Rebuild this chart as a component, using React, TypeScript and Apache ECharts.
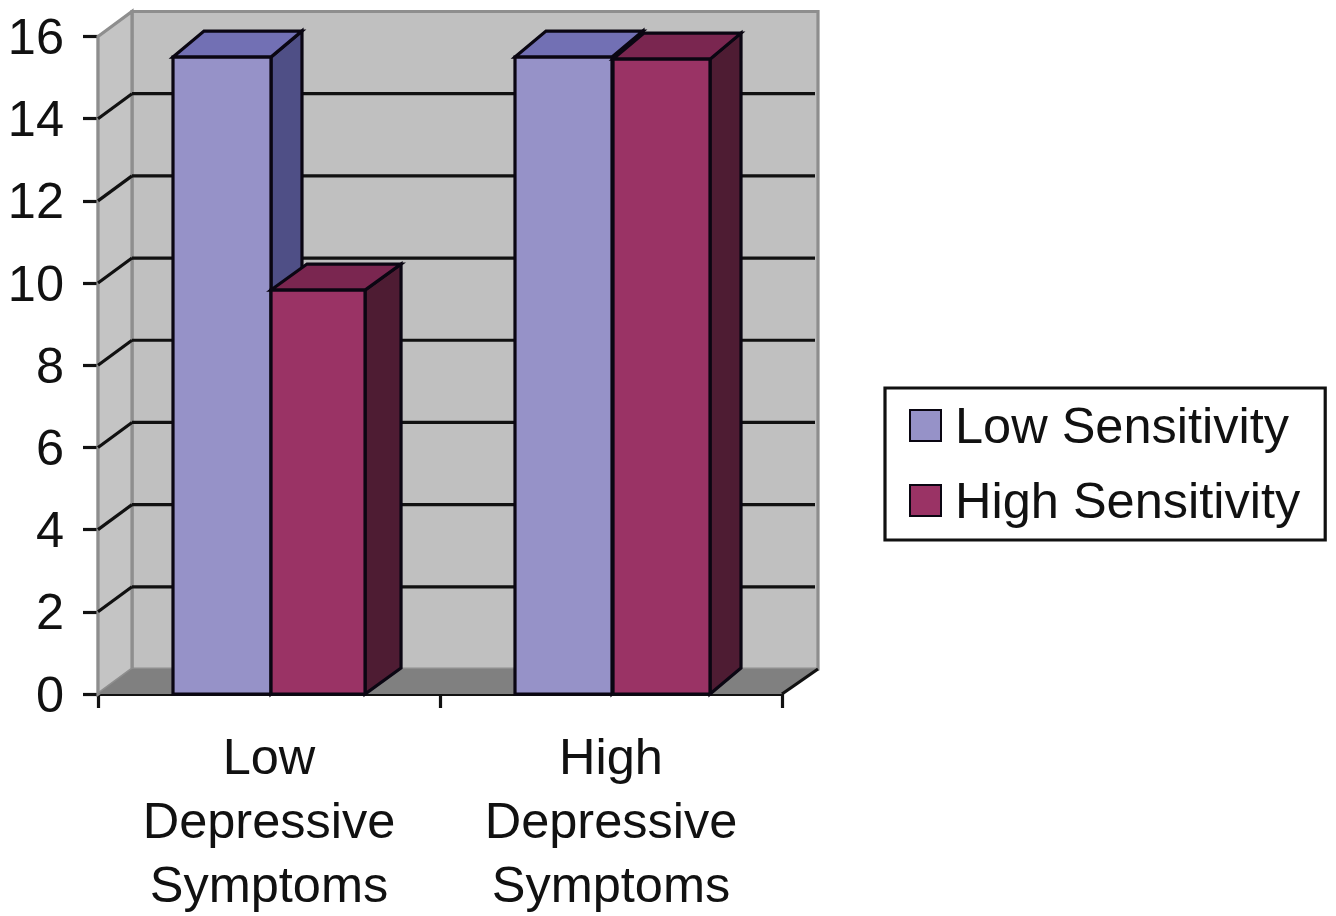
import React, { useEffect, useRef } from "react";
import * as echarts from "echarts";

const categories = ["Low\nDepressive\nSymptoms", "High\nDepressive\nSymptoms"];
const seriesNames = ["Low Sensitivity", "High Sensitivity"];
const lowSensitivity = [15.5, 15.5];
const highSensitivity = [9.83, 15.45];
const wallTicks = [0, 2, 4, 6, 8, 10, 12, 14, 16];

const FONT = "'Liberation Sans', Arial, sans-serif";
const DX = 34;
const DX_RIGHT = 36;
const DY = 25;
const INK = "#0a0612";
const LW = 3.2;

const poly = (points: number[][], fill: string, stroke: string, lineWidth = LW) => ({
  type: "polygon",
  shape: { points },
  style: { fill, stroke, lineWidth, lineJoin: "miter" },
});
const seg = (a: number[], b: number[], stroke: string, lineWidth = LW) => ({
  type: "line",
  shape: { x1: a[0], y1: a[1], x2: b[0], y2: b[1] },
  style: { stroke, lineWidth },
});

function renderWall(params: any, api: any) {
  const g = params.coordSys;
  const v = api.value(1);
  const y = api.coord([0, v])[1];
  const l = g.x;
  const r = g.x + g.width;
  const children: any[] = [];
  if (v === 0) {
    const top = g.y;
    const bot = g.y + g.height;
    const edge = "#8e8e8e";
    children.push(
      poly([[l + DX, top - DY], [r + DX_RIGHT, top - DY], [r + DX_RIGHT, bot - DY], [l + DX, bot - DY]], "#c0c0c0", edge),
      poly([[l, top], [l + DX, top - DY], [l + DX, bot - DY], [l, bot]], "#c4c4c4", edge),
      poly([[l, bot], [l + DX, bot - DY], [r + DX_RIGHT, bot - DY], [r, bot]], "#808080", "none", 0),
      seg([r, bot], [r + DX_RIGHT, bot - DY], "#111111"),
    );
  } else if (v < 16) {
    children.push(seg([l, y], [l + DX, y - DY], "#111111"), seg([l + DX, y - DY], [r + DX_RIGHT - 3, y - DY], "#111111"));
  }
  return { type: "group", children };
}

function makeBar(offset: number, widthFrac: number[], depth: number[], front: string, top: string, side: string) {
  return (params: any, api: any) => {
    const idx = api.value(0);
    const val = api.value(1);
    const c = api.coord([idx, val]);
    const b = api.coord([idx, 0]);
    const band = api.size([1, 0])[0];
    const w = band * widthFrac[idx];
    const x0 = c[0] + band * offset;
    const x1 = x0 + w;
    const yT = c[1];
    const yB = b[1];
    const dx = depth[idx];
    const dy = 26;
    return {
      type: "group",
      children: [
        poly([[x1, yT], [x1 + dx, yT - dy], [x1 + dx, yB - dy], [x1, yB]], side, INK),
        poly([[x0, yT], [x0 + dx, yT - dy], [x1 + dx, yT - dy], [x1, yT]], top, INK),
        poly([[x0, yT], [x1, yT], [x1, yB], [x0, yB]], front, INK),
      ],
    };
  };
}

export default function App() {
  const ref = useRef<HTMLDivElement>(null);
  useEffect(() => {
    const chart = echarts.init(ref.current!, undefined, { renderer: "svg" });
    const axisLine = { show: true, lineStyle: { color: "#111111", width: LW } };
    chart.setOption({
      animation: false,
      backgroundColor: "#ffffff",
      textStyle: { fontFamily: FONT },
      grid: { left: 98, top: 36.5, width: 684, height: 657.5, outerBoundsMode: "none" },
      xAxis: {
        type: "category",
        data: categories,
        axisLine,
        axisTick: { show: true, length: 14, lineStyle: { color: "#111111", width: LW } },
        axisLabel: { color: "#111111", fontSize: 50.5, fontFamily: FONT, lineHeight: 64, margin: 30, interval: 0 },
        splitLine: { show: false },
      },
      yAxis: {
        type: "value",
        min: 0,
        max: 16,
        interval: 2,
        axisLine,
        axisTick: { show: true, length: 15, lineStyle: { color: "#111111", width: LW } },
        axisLabel: { color: "#111111", fontSize: 50.5, fontFamily: FONT, margin: 34 },
        splitLine: { show: false },
      },
      legend: {
        left: 885,
        top: 388,
        orient: "vertical",
        data: seriesNames,
        backgroundColor: "#ffffff",
        borderColor: "#111111",
        borderWidth: LW,
        borderRadius: 0,
        padding: [12, 25, 14, 24],
        itemGap: 24,
        itemWidth: 31,
        itemHeight: 31,
        icon: "rect",
        selectedMode: false,
        textStyle: { color: "#111111", fontSize: 50.5, fontFamily: FONT, padding: [0, 0, 0, 9] },
      },
      series: [
        {
          type: "custom",
          name: "wall",
          silent: true,
          renderItem: renderWall,
          encode: { x: 0, y: 1 },
          data: wallTicks.map((t) => [0, t]),
          z: 1,
        },
        {
          type: "custom",
          name: seriesNames[0],
          silent: true,
          renderItem: makeBar(-0.2807, [0.2865, 0.2836], [31, 31], "#9692c8", "#7270b4", "#4f4f86"),
          itemStyle: { color: "#9692c8", borderColor: INK, borderWidth: LW },
          encode: { x: 0, y: 1 },
          data: lowSensitivity.map((v, i) => [i, v]),
          z: 2,
        },
        {
          type: "custom",
          name: seriesNames[1],
          silent: true,
          renderItem: makeBar(0.0059, [0.2749, 0.2836], [36, 31], "#9a3365", "#7a2650", "#4e1c33"),
          itemStyle: { color: "#9a3365", borderColor: INK, borderWidth: LW },
          encode: { x: 0, y: 1 },
          data: highSensitivity.map((v, i) => [i, v]),
          z: 3,
        },
      ],
    });
    return () => chart.dispose();
  }, []);
  return <div ref={ref} style={{ position: "absolute", left: 0, top: 0, width: 1336, height: 916 }} />;
}
